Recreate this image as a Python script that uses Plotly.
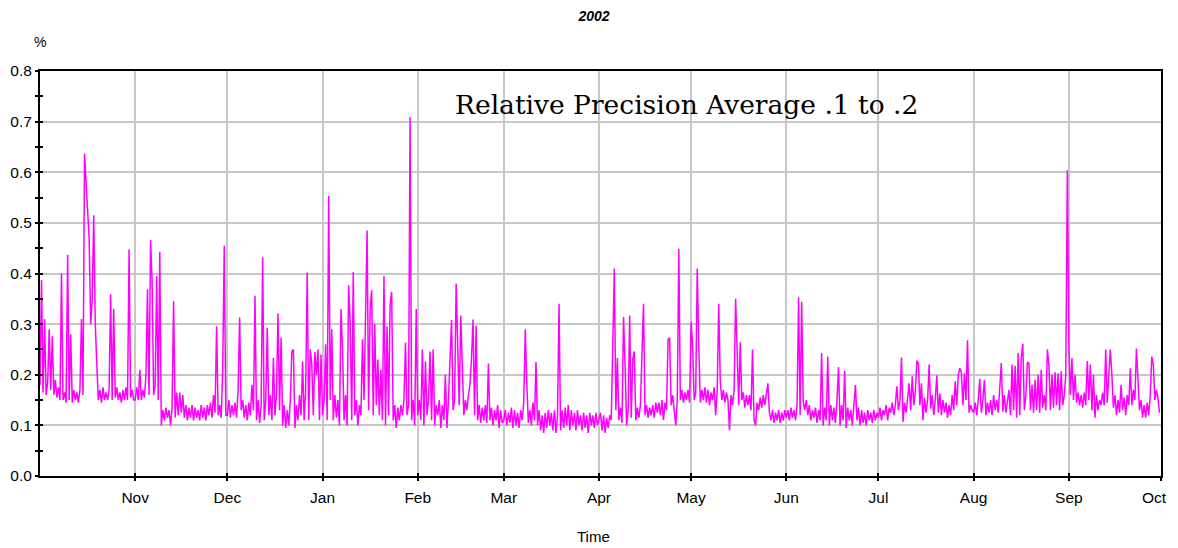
import pandas as pd
import plotly.graph_objects as go

# ---- data: relative precision (%), sampled every 12 hours, one list per month ----
month_starts = ["2001-10-01", "2001-11-01", "2001-12-01", "2002-01-01", "2002-02-01", "2002-03-01",
                "2002-04-01", "2002-05-01", "2002-06-01", "2002-07-01", "2002-08-01", "2002-09-01"]

oct_01 = [0.180,0.387,0.165,0.310,0.160,0.185,0.290,0.170,0.276,0.160,
          0.190,0.155,0.175,0.150,0.400,0.150,0.165,0.145,0.437,0.150,
          0.280,0.145,0.170,0.150,0.165,0.145,0.170,0.310,0.160,0.637,
          0.580,0.510,0.470,0.300,0.347,0.515,0.300,0.220,0.150,0.170,
          0.145,0.175,0.150,0.165,0.150,0.170,0.359,0.150,0.330,0.155,
          0.175,0.150,0.165,0.145,0.170,0.150,0.175,0.150,0.448,0.155,
          0.170,0.150]
nov_01 = [0.150,0.175,0.150,0.210,0.150,0.170,0.155,0.200,0.369,0.160,
          0.466,0.385,0.160,0.180,0.395,0.150,0.443,0.100,0.130,0.110,
          0.135,0.115,0.130,0.100,0.135,0.345,0.115,0.165,0.120,0.165,
          0.125,0.160,0.115,0.140,0.110,0.135,0.115,0.140,0.110,0.135,
          0.115,0.130,0.110,0.140,0.115,0.135,0.110,0.140,0.120,0.145,
          0.115,0.160,0.125,0.296,0.120,0.140,0.115,0.213,0.455,0.120]
dec_01 = [0.120,0.150,0.115,0.140,0.120,0.145,0.115,0.170,0.313,0.130,
          0.150,0.115,0.140,0.110,0.145,0.120,0.180,0.130,0.356,0.110,
          0.150,0.105,0.140,0.432,0.110,0.150,0.293,0.120,0.160,0.110,
          0.233,0.120,0.160,0.321,0.130,0.273,0.100,0.140,0.095,0.130,
          0.100,0.150,0.246,0.250,0.095,0.140,0.110,0.160,0.120,0.226,
          0.110,0.170,0.402,0.110,0.250,0.220,0.120,0.245,0.200,0.250,
          0.110,0.240]
jan_02 = [0.120,0.150,0.260,0.110,0.553,0.150,0.290,0.110,0.160,0.115,
          0.150,0.100,0.330,0.253,0.110,0.160,0.100,0.377,0.300,0.110,
          0.403,0.120,0.150,0.100,0.140,0.120,0.270,0.150,0.340,0.485,
          0.130,0.332,0.367,0.120,0.300,0.140,0.230,0.120,0.210,0.110,
          0.395,0.100,0.296,0.120,0.340,0.364,0.110,0.140,0.095,0.135,
          0.110,0.140,0.120,0.150,0.263,0.120,0.140,0.709,0.110,0.150,
          0.100,0.330]
feb_02 = [0.120,0.150,0.110,0.250,0.100,0.226,0.120,0.150,0.246,0.110,
          0.250,0.100,0.140,0.120,0.150,0.095,0.140,0.110,0.200,0.095,
          0.150,0.250,0.308,0.130,0.150,0.380,0.265,0.140,0.317,0.213,
          0.120,0.150,0.130,0.160,0.180,0.233,0.309,0.120,0.297,0.110,
          0.140,0.105,0.135,0.110,0.140,0.105,0.222,0.110,0.135,0.100,
          0.130,0.110,0.140,0.095,0.130,0.105]
mar_02 = [0.110,0.130,0.100,0.125,0.105,0.135,0.095,0.130,0.100,0.125,
          0.095,0.130,0.110,0.145,0.290,0.183,0.105,0.130,0.100,0.145,
          0.110,0.225,0.100,0.130,0.090,0.120,0.085,0.125,0.095,0.130,
          0.100,0.125,0.090,0.130,0.085,0.120,0.340,0.090,0.130,0.095,
          0.135,0.100,0.140,0.090,0.130,0.100,0.125,0.090,0.130,0.100,
          0.120,0.090,0.125,0.095,0.120,0.085,0.125,0.100,0.120,0.095,
          0.125,0.100]
apr_02 = [0.110,0.125,0.090,0.120,0.085,0.115,0.095,0.120,0.110,0.236,
          0.410,0.130,0.233,0.110,0.135,0.105,0.314,0.220,0.100,0.130,
          0.317,0.115,0.230,0.246,0.110,0.135,0.115,0.140,0.236,0.340,
          0.120,0.140,0.115,0.135,0.120,0.140,0.115,0.145,0.125,0.145,
          0.120,0.150,0.110,0.145,0.130,0.270,0.273,0.140,0.160,0.130,
          0.100,0.150,0.449,0.150,0.170,0.145,0.165,0.150,0.170,0.145]
may_02 = [0.304,0.256,0.150,0.165,0.410,0.258,0.145,0.170,0.150,0.175,
          0.145,0.170,0.140,0.165,0.150,0.175,0.120,0.170,0.340,0.187,
          0.150,0.170,0.145,0.165,0.150,0.090,0.160,0.140,0.170,0.350,
          0.236,0.140,0.264,0.150,0.165,0.135,0.160,0.140,0.160,0.130,
          0.250,0.110,0.100,0.145,0.130,0.155,0.135,0.160,0.140,0.165,
          0.183,0.125,0.110,0.130,0.105,0.125,0.110,0.130,0.105,0.125,
          0.110,0.130]
jun_02 = [0.115,0.130,0.110,0.135,0.115,0.130,0.110,0.140,0.353,0.120,
          0.344,0.147,0.130,0.150,0.120,0.140,0.110,0.130,0.115,0.135,
          0.105,0.130,0.110,0.243,0.100,0.135,0.110,0.236,0.100,0.140,
          0.110,0.135,0.105,0.150,0.215,0.100,0.140,0.110,0.208,0.095,
          0.135,0.110,0.130,0.100,0.140,0.180,0.110,0.135,0.100,0.130,
          0.105,0.125,0.100,0.130,0.110,0.125,0.105,0.130,0.110,0.125]
jul_02 = [0.115,0.135,0.110,0.130,0.120,0.140,0.110,0.135,0.125,0.145,
          0.120,0.140,0.177,0.130,0.150,0.234,0.107,0.145,0.125,0.160,
          0.183,0.130,0.197,0.140,0.165,0.228,0.223,0.140,0.183,0.110,
          0.155,0.125,0.150,0.220,0.133,0.160,0.120,0.150,0.199,0.125,
          0.163,0.120,0.150,0.125,0.145,0.115,0.140,0.120,0.160,0.130,
          0.187,0.140,0.200,0.213,0.205,0.140,0.203,0.150,0.268,0.125,
          0.140,0.130]
aug_02 = [0.125,0.145,0.120,0.150,0.192,0.125,0.150,0.190,0.120,0.145,
          0.125,0.150,0.120,0.160,0.130,0.150,0.125,0.175,0.223,0.127,
          0.160,0.125,0.150,0.170,0.120,0.220,0.130,0.217,0.115,0.243,
          0.120,0.233,0.261,0.130,0.160,0.225,0.223,0.130,0.180,0.125,
          0.190,0.130,0.200,0.125,0.210,0.135,0.160,0.130,0.250,0.220,
          0.130,0.200,0.135,0.205,0.140,0.203,0.130,0.207,0.140,0.160,
          0.200,0.604]
sep_02 = [0.256,0.160,0.233,0.150,0.200,0.145,0.165,0.140,0.160,0.135,
          0.165,0.140,0.227,0.150,0.220,0.130,0.200,0.115,0.160,0.130,
          0.150,0.140,0.165,0.140,0.250,0.145,0.200,0.250,0.200,0.135,
          0.160,0.120,0.150,0.125,0.180,0.130,0.155,0.120,0.160,0.140,
          0.213,0.140,0.170,0.150,0.252,0.200,0.130,0.150,0.115,0.140,
          0.115,0.145,0.120,0.160,0.236,0.220,0.150,0.170,0.155,0.125]

monthly_values = [oct_01, nov_01, dec_01, jan_02, feb_02, mar_02,
                  apr_02, may_02, jun_02, jul_02, aug_02, sep_02]

tick_dates = ["2001-11-01", "2001-12-01", "2002-01-01", "2002-02-01", "2002-03-01", "2002-04-01",
              "2002-05-01", "2002-06-01", "2002-07-01", "2002-08-01", "2002-09-01", "2002-10-01"]
tick_labels = ["Nov", "Dec", "Jan", "Feb", "Mar", "Apr", "May", "Jun", "Jul", "Aug", "Sep", "Oct"]

x_range = ["2001-10-01", "2002-10-01"]
y_range = [0, 0.8]

# ---- build series ----
times, values = [], []
for start, vals in zip(month_starts, monthly_values):
    times.extend(pd.date_range(start, periods=len(vals), freq="12h"))
    values.extend(vals)

GRID = "#c8c8c8"
SANS = "Liberation Sans, Arial, sans-serif"
TICKFONT = dict(family=SANS, size=15.5, color="black")

# the last label sits at the right edge of the page: it is drawn as an annotation
# (right-aligned) so that it stays fully visible
axis_ticktext = tick_labels[:-1] + [""]

fig = go.Figure()
fig.add_trace(go.Scatter(x=times, y=values, mode="lines",
                         line=dict(color="#ff00ff", width=1.5),
                         hoverinfo="x+y", showlegend=False))

# the page body has an 8px margin, so the figure is 8px smaller than the window
fig.update_layout(
    width=1170, height=540,
    margin=dict(l=32, r=17, t=63, b=72, autoexpand=False),
    paper_bgcolor="white", plot_bgcolor="white",
    title=dict(text="<b><i>2002</i></b>", x=0.5009, y=0.985, xref="container", yref="container",
               xanchor="center", yanchor="middle",
               font=dict(family=SANS, size=14, color="black")),
    xaxis=dict(type="date", range=x_range, tickvals=tick_dates, ticktext=axis_ticktext,
               showgrid=True, gridcolor=GRID, gridwidth=1.5, automargin=False,
               ticks="outside", ticklen=3, tickwidth=1.5, tickcolor="black",
               showline=True, linecolor="black", linewidth=2, mirror=True,
               tickfont=TICKFONT, ticklabelstandoff=3, zeroline=False),
    yaxis=dict(range=y_range, dtick=0.1, tick0=0, tickformat=".1f", automargin=False,
               showgrid=True, gridcolor=GRID, gridwidth=1.5,
               ticks="outside", ticklen=3, tickwidth=1.5, tickcolor="black",
               minor=dict(dtick=0.05, ticks="outside", ticklen=3, tickwidth=1.5,
                          tickcolor="black", showgrid=False),
               showline=True, linecolor="black", linewidth=2, mirror=True,
               tickfont=TICKFONT, zeroline=False),
    # overlay axes to draw the inner half of the crossing tick marks
    xaxis2=dict(type="date", range=x_range, tickvals=tick_dates, overlaying="x", anchor="y",
                side="bottom", showgrid=False, showticklabels=False, zeroline=False,
                automargin=False,
                ticks="inside", ticklen=3, tickwidth=1.5, tickcolor="black", showline=False),
    yaxis2=dict(range=y_range, dtick=0.1, tick0=0, overlaying="y", anchor="x", side="left",
                showgrid=False, showticklabels=False, zeroline=False, automargin=False,
                ticks="inside", ticklen=3, tickwidth=1.5, tickcolor="black", showline=False,
                minor=dict(dtick=0.05, ticks="inside", ticklen=3, tickwidth=1.5,
                           tickcolor="black", showgrid=False)),
)

# dummy (empty) trace so the overlay axes are rendered
fig.add_trace(go.Scatter(x=[None], y=[None], xaxis="x2", yaxis="y2",
                         mode="lines", showlegend=False, hoverinfo="skip"))

# last month label
fig.add_annotation(text=tick_labels[-1], xref="x", yref="paper", x=tick_dates[-1], y=-0.0543,
                   xanchor="right", yanchor="middle", xshift=8, showarrow=False,
                   font=TICKFONT)

# white box behind the chart caption (hides the grid)
fig.add_shape(type="rect", xref="paper", yref="paper",
              x0=0.3506, x1=0.934, y0=0.854, y1=0.983,
              fillcolor="white", line=dict(width=0), layer="between")

fig.add_annotation(text="Relative Precision Average .1 to .2", xref="paper", yref="paper",
                   x=0.3684, y=0.918, xanchor="left", yanchor="middle", showarrow=False,
                   font=dict(family="DejaVu Serif, serif", size=26.5, color="black"))

fig.add_annotation(text="%", xref="paper", yref="paper", x=0.0, y=1.0716,
                   xanchor="center", yanchor="middle", showarrow=False,
                   font=dict(family=SANS, size=14, color="black"))

fig.add_annotation(text="Time", xref="paper", yref="paper", x=0.494, y=-0.1506,
                   xanchor="center", yanchor="middle", showarrow=False,
                   font=dict(family=SANS, size=15, color="black"))

fig.write_html("out.html")
